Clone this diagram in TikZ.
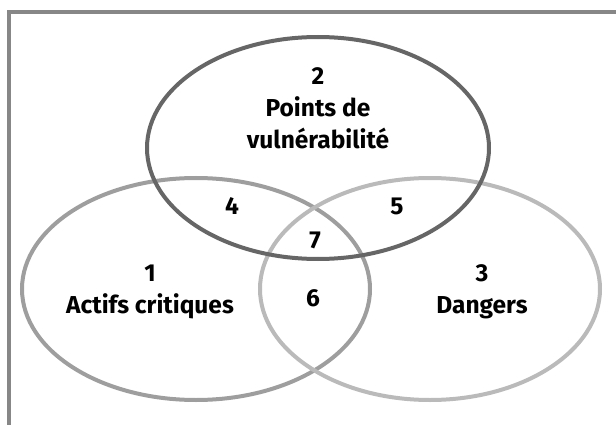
\documentclass[tikz,border=0pt]{standalone}
\usepackage{fontspec}
\setmainfont{Fira Sans}
\begin{document}
\begin{tikzpicture}[x=1pt,y=-1pt,
  ring/.style={line width=4pt},
  lbl/.style={font=\bfseries\fontsize{24.5}{32}\selectfont, align=center, inner sep=0pt},
  num/.style={font=\bfseries\fontsize{24.5}{32}\selectfont, inner sep=0pt}]
  \useasboundingbox (0,0) rectangle (616,425);
  % frame: top and left rules
  \draw[line width=4pt, color=black!47] (9,425) -- (9,12) -- (616,12);
  % the three sets
  \draw[ring, color=black!38] (196,289) ellipse [x radius=174, y radius=111];
  \draw[ring, color=black!27] (430,289) ellipse [x radius=170, y radius=111];
  \draw[ring, color=black!60] (318,148) ellipse [x radius=171, y radius=111];
  % set labels
  \node[lbl] (s2) at (318,108) {2\\Points de\\vulnérabilité};
  \node[lbl] (s1) at (150,292) {1\\Actifs critiques};
  \node[lbl] (s3) at (482,292) {3\\Dangers};
  % overlap labels
  \node[num] (r4) at (232,206) {4};
  \node[num] (r5) at (397,206) {5};
  \node[num] (r7) at (315,240) {7};
  \node[num] (r6) at (313,298) {6};
\end{tikzpicture}
\end{document}
